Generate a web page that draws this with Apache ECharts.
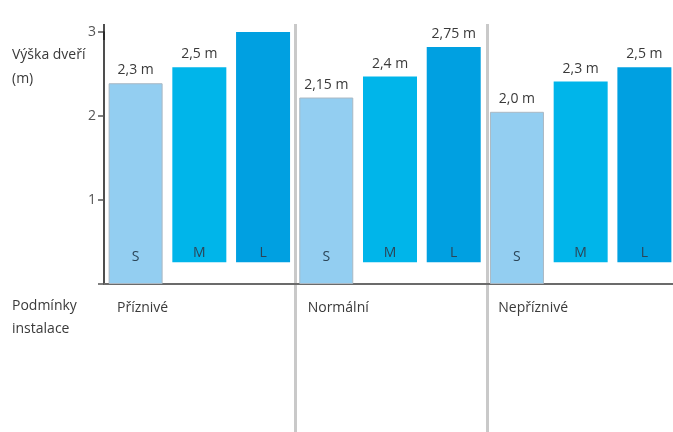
<!DOCTYPE html>
<html>
<head>
<meta charset="utf-8">
<script src="https://cdn.jsdelivr.net/npm/echarts@6/dist/echarts.min.js"></script>
<style>
  html, body { margin: 0; padding: 0; background: #fff; overflow: hidden; }
  #chart { width: 679px; height: 432px; }
</style>
</head>
<body>
<div id="chart"></div>
<script>
// podmínky instalace (kategorie)
const conditions = ['Příznivé', 'Normální', 'Nepříznivé'];
// výšky sloupců (m)
const sTop = [2.39, 2.22, 2.05];
const mTop = [2.58, 2.47, 2.41];
const lTop = [3.01, 2.82, 2.58];
// spodní hrana sloupců M a L (plovoucí)
const floatBase = [0.26, 0.26, 0.26];
// popisky nad sloupci
const sLabels = ['2,3 m', '2,15 m', '2,0 m'];
const mLabels = ['2,5 m', '2,4 m', '2,3 m'];
const lLabels = ['3,0 m', '2,75 m', '2,5 m'];
const yTicks = [1, 2, 3];

const FONT = 'Open Sans';
// kontejner je o pár px širší než okno, poslední skupina končí u okraje
const myChart = echarts.init(document.getElementById('chart'));

const capLabel = (texts) => ({
    show: true,
    position: 'top',
    distance: 6,
    color: '#3a3a3a',
    fontFamily: FONT,
    fontSize: 14,
    formatter: p => texts[p.dataIndex]
});
const letterLabel = (letter, dist) => ({
    show: true,
    position: 'insideBottom',
    distance: dist,
    color: '#2b4558',
    fontFamily: FONT,
    fontSize: 14,
    formatter: letter
});
const zeros = conditions.map(() => 0);

const common = { type: 'bar', barWidth: 54, barGap: '18%', barCategoryGap: '4%', silent: true };

let option = {
    animation: false,
    textStyle: { fontFamily: FONT },
    grid: [
        { left: 104, right: 0, top: 32, bottom: 148 },
        { left: 104, right: 0, top: 24, bottom: 0 }
    ],
    graphic: [
        { type: 'text', left: 12, top: 48, style: { text: 'Výška dveří', fill: '#3a3a3a', font: '14px "Open Sans"' } },
        { type: 'text', left: 12, top: 72, style: { text: '(m)', fill: '#3a3a3a', font: '14px "Open Sans"' } },
        { type: 'text', left: 12, top: 299, style: { text: 'Podmínky', fill: '#3a3a3a', font: '14px "Open Sans"' } },
        { type: 'text', left: 12, top: 322, style: { text: 'instalace', fill: '#3a3a3a', font: '14px "Open Sans"' } }
    ],
    xAxis: [
        {
            type: 'category',
            gridIndex: 0,
            position: 'bottom',
            data: conditions,
            axisLine: { show: true, lineStyle: { color: '#6b6b6b', width: 2 } },
            axisTick: { show: false },
            axisLabel: { show: false }
        },
        {
            // popisky kategorií zarovnané k levému okraji skupiny
            type: 'category',
            gridIndex: 0,
            position: 'bottom',
            boundaryGap: false,
            data: conditions.concat(['']),
            axisLine: { show: false },
            axisTick: { show: false },
            axisLabel: {
                align: 'left',
                margin: 17,
                padding: [0, 0, 0, 13],
                color: '#3a3a3a',
                fontFamily: FONT,
                fontSize: 14
            }
        },
        {
            // svislé oddělovače skupin
            type: 'category',
            gridIndex: 1,
            data: conditions,
            axisLine: { show: false },
            axisTick: { show: false },
            axisLabel: { show: false },
            splitLine: {
                show: true,
                interval: (i) => i === 1 || i === 2,
                lineStyle: { color: '#c9c9c9', width: 3 }
            }
        }
    ],
    yAxis: [
        {
            type: 'value',
            gridIndex: 0,
            min: 0,
            max: 3,
            interval: 1,
            axisLine: {
                show: true,
                symbol: ['none', 'rect'],
                symbolSize: [1.6, 16],
                lineStyle: { color: '#222', width: 1.6 }
            },
            axisTick: { show: true, inside: false, length: 6, lineStyle: { color: '#555', width: 1.5 } },
            axisLabel: {
                margin: 8,
                color: '#555',
                fontFamily: FONT,
                fontSize: 14,
                formatter: v => yTicks.includes(v) ? String(v) : ''
            },
            splitLine: { show: false }
        },
        { type: 'value', gridIndex: 1, show: false }
    ],
    series: [
        Object.assign({}, common, {
            name: 'S', stack: 's', data: sTop,
            itemStyle: { color: '#93cef1', borderColor: '#aab8c3', borderWidth: 1 },
            label: letterLabel('S', 20)
        }),
        Object.assign({}, common, {
            name: 'S-cap', stack: 's', data: zeros,
            itemStyle: { color: 'transparent' },
            label: capLabel(sLabels)
        }),
        Object.assign({}, common, {
            name: 'M-base', stack: 'm', data: floatBase,
            itemStyle: { color: 'transparent' }
        }),
        Object.assign({}, common, {
            name: 'M', stack: 'm', data: mTop.map((v, i) => v - floatBase[i]),
            itemStyle: { color: '#00b5ea' },
            label: letterLabel('M', 2)
        }),
        Object.assign({}, common, {
            name: 'M-cap', stack: 'm', data: zeros,
            itemStyle: { color: 'transparent' },
            label: capLabel(mLabels)
        }),
        Object.assign({}, common, {
            name: 'L-base', stack: 'l', data: floatBase,
            itemStyle: { color: 'transparent' }
        }),
        Object.assign({}, common, {
            name: 'L', stack: 'l', data: lTop.map((v, i) => v - floatBase[i]),
            itemStyle: { color: '#00a0e1' },
            label: letterLabel('L', 2)
        }),
        Object.assign({}, common, {
            name: 'L-cap', stack: 'l', data: zeros,
            itemStyle: { color: 'transparent' },
            label: capLabel(lLabels)
        })
    ]
};

myChart.setOption(option);
</script>
</body>
</html>
